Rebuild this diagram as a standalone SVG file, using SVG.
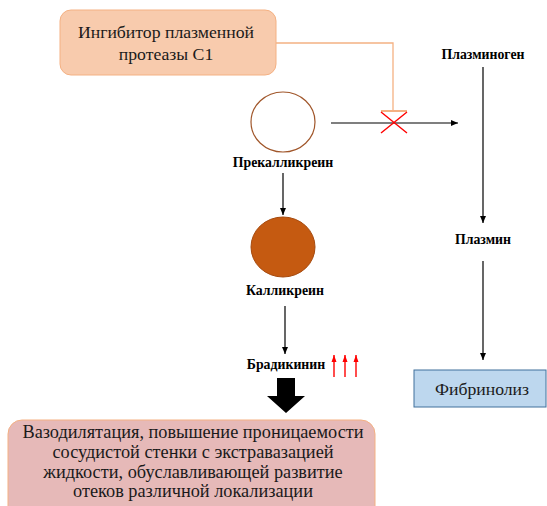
<svg xmlns="http://www.w3.org/2000/svg" width="547" height="506" viewBox="0 0 547 506">
<defs>
<marker id="ah" markerWidth="8" markerHeight="8" refX="7" refY="4" orient="auto" markerUnits="userSpaceOnUse">
<path d="M0,1 L7,4 L0,7 Z" fill="#000"/>
</marker>
<marker id="rh" markerWidth="8" markerHeight="8" refX="7" refY="4" orient="auto" markerUnits="userSpaceOnUse">
<path d="M0,1.5 L7,4 L0,6.5 Z" fill="#FF0000"/>
</marker>
</defs>
<style>
.lbl{font-family:"Liberation Serif","Times New Roman",serif;font-weight:bold;font-size:13.8px;fill:#000;text-anchor:middle}
.big{font-family:"Liberation Serif","Times New Roman",serif;font-size:17.7px;fill:#1a1a1a;text-anchor:middle}
.eff{font-size:18.3px}
.ln{stroke:#000;stroke-width:1.2;fill:none}
.red{stroke:#FF0000;stroke-width:1.4;fill:none}
</style>
<rect width="547" height="506" fill="#fff"/>
<g id="connectors">
<path d="M276,43 H393 V111" stroke="#F4B183" stroke-width="1.3" fill="none"/>
<path d="M381,111 H407" stroke="#F4B183" stroke-width="2"/>
<path class="ln" d="M331,123 H458" marker-end="url(#ah)"/>
<path class="red" d="M381,112 L407,133 M407,112 L381,133"/>
<path class="ln" d="M283,173 V215" marker-end="url(#ah)"/>
<path class="ln" d="M285,306 V354" marker-end="url(#ah)"/>
<path class="ln" d="M483,67 V223" marker-end="url(#ah)"/>
<path class="ln" d="M483,261 V360" marker-end="url(#ah)"/>
<path class="red" d="M334,377 V355" marker-end="url(#rh)"/>
<path class="red" d="M345,377 V355" marker-end="url(#rh)"/>
<path class="red" d="M356,377 V355" marker-end="url(#rh)"/>
<path d="M277,378 H295 V396 H305 L286,413 L267,396 H277 Z" fill="#000"/>
</g>
<g id="inhibitor">
<rect x="60" y="10" width="216" height="65" rx="11" fill="#F8CBAD" stroke="#F4B183" stroke-width="1"/>
<text class="big" x="166" y="38">Ингибитор плазменной</text>
<text class="big" x="166" y="60">протеазы С1</text>
</g>
<g id="prekallikrein">
<ellipse cx="283" cy="122" rx="32" ry="30" fill="#fff" stroke="#A0562A" stroke-width="1.2"/>
<text class="lbl" x="283" y="167">Прекалликреин</text>
</g>
<g id="plasminogen">
<text class="lbl" x="483" y="59">Плазминоген</text>
</g>
<g id="kallikrein">
<ellipse cx="283" cy="247" rx="32" ry="30" fill="#C55A11" stroke="#A64A0E" stroke-width="1"/>
<text class="lbl" x="285" y="295">Калликреин</text>
</g>
<g id="bradykinin">
<text class="lbl" x="286" y="369">Брадикинин</text>
</g>
<g id="plasmin">
<text class="lbl" x="483" y="244">Плазмин</text>
</g>
<g id="fibrinolysis">
<rect x="414" y="370" width="132" height="37" fill="#BDD7EE" stroke="#41719C" stroke-width="1"/>
<text class="big" x="482" y="395">Фибринолиз</text>
</g>
<g id="effect">
<rect x="8" y="420" width="367" height="100" rx="14" fill="#E6B9B8" stroke="#F4B183" stroke-width="1"/>
<text class="big eff" x="193" y="438">Вазодилятация, повышение проницаемости</text>
<text class="big eff" x="193" y="458">сосудистой стенки с экстравазацией</text>
<text class="big eff" x="193" y="478">жидкости, обуславливающей развитие</text>
<text class="big eff" x="193" y="497">отеков различной локализации</text>
</g>
</svg>
